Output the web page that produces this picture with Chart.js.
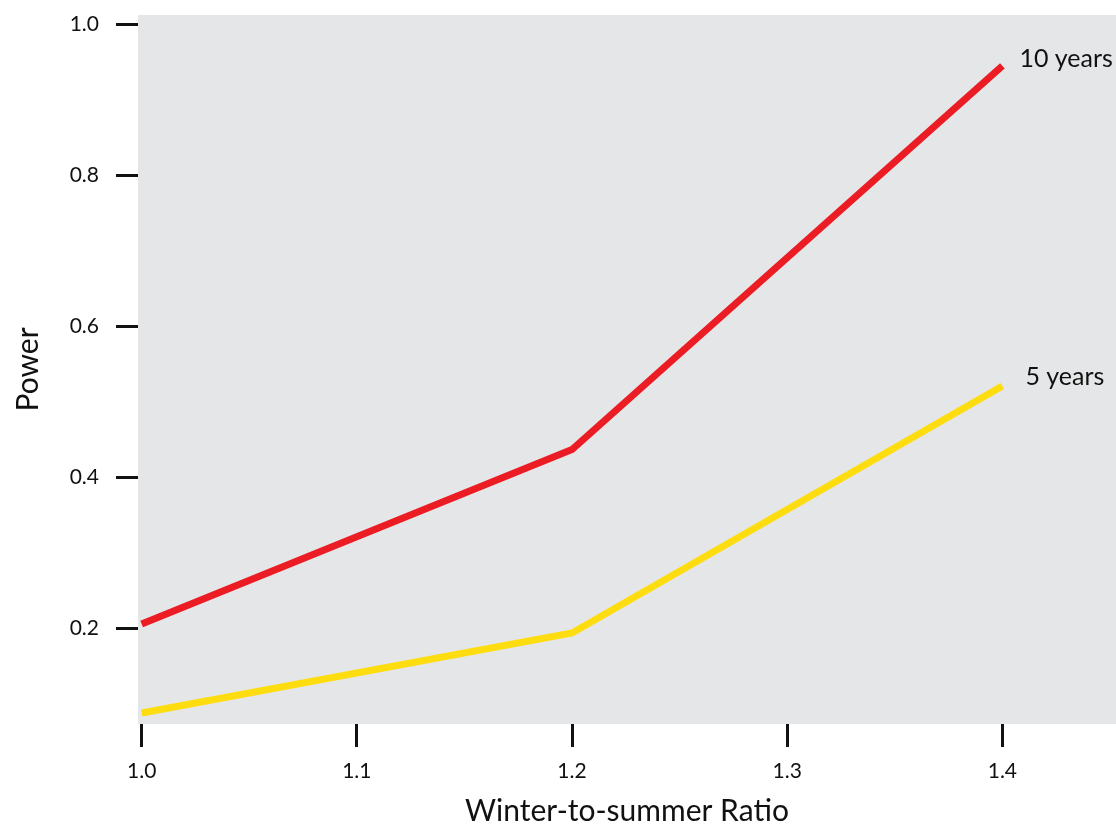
<!DOCTYPE html>
<html>
<head>
<meta charset="utf-8">
<script src="https://cdn.jsdelivr.net/npm/chart.js@4"></script>
<style>
  html, body { margin: 0; padding: 0; background: #fff; }
  canvas { display: block; }
</style>
</head>
<body>
<canvas id="canv" width="1116" height="829"></canvas>
<script>
const ratios = [1.0, 1.2, 1.4];
const tenYears = [0.206, 0.437, 0.945];
const fiveYears = [0.088, 0.194, 0.521];
const xTicks = [1.0, 1.1, 1.2, 1.3, 1.4];
const yTicks = [0.2, 0.4, 0.6, 0.8, 1.0];
const seriesNames = ["10 years", "5 years"];

const plotBg = {
  id: 'plotBg',
  beforeDraw(chart) {
    const a = chart.chartArea;
    const c = chart.ctx;
    c.save();
    c.fillStyle = '#e5e6e8';
    c.fillRect(a.left, a.top, a.right - a.left, a.bottom - a.top);
    c.restore();
  }
};

// series name next to the last point of each line
const endLabels = {
  id: 'endLabels',
  afterDatasetsDraw(chart) {
    const c = chart.ctx;
    const offs = [[17, -7], [23, -9]];
    c.save();
    c.font = '25px Lato';
    c.fillStyle = '#111';
    c.textBaseline = 'middle';
    c.textAlign = 'left';
    chart.data.datasets.forEach((ds, i) => {
      const pts = chart.getDatasetMeta(i).data;
      const p = pts[pts.length - 1];
      c.fillText(ds.label, p.x + offs[i][0], p.y + offs[i][1]);
    });
    c.restore();
  }
};

const ctx = document.getElementById('canv').getContext('2d');
new Chart(ctx, {
  type: 'line',
  data: {
    datasets: [
      {
        label: seriesNames[0],
        data: ratios.map((r, i) => ({x: r, y: tenYears[i]})),
        borderColor: '#ec1c24',
        borderWidth: 7,
        pointRadius: 0,
        tension: 0
      },
      {
        label: seriesNames[1],
        data: ratios.map((r, i) => ({x: r, y: fiveYears[i]})),
        borderColor: '#fedd10',
        borderWidth: 7,
        pointRadius: 0,
        tension: 0
      }
    ]
  },
  options: {
    responsive: false,
    animation: false,
    layout: { padding: { top: 15, right: 0, left: 0, bottom: 0 } },
    plugins: { legend: { display: false }, tooltip: { enabled: false } },
    scales: {
      x: {
        type: 'linear',
        min: 0.9983,
        max: 1.4528,
        afterBuildTicks: s => { s.ticks = xTicks.map(v => ({value: v})); },
        afterFit: s => { s.height = 105; s.paddingLeft = 0; s.paddingRight = 0; },
        grid: { drawOnChartArea: false, drawTicks: true, tickLength: 23, tickWidth: 3, tickColor: '#111' },
        border: { display: false },
        ticks: {
          padding: 12,
          color: '#111',
          font: { family: 'Lato', size: 21 },
          callback: v => v.toFixed(1)
        },
        title: {
          display: true,
          text: 'Winter-to-summer Ratio',
          color: '#111',
          font: { family: 'Lato', size: 30 },
          padding: { top: 0, bottom: 0 }
        }
      },
      y: {
        min: 0.0735,
        max: 1.0124,
        afterBuildTicks: s => { s.ticks = yTicks.map(v => ({value: v})); },
        afterFit: s => { s.width = 138; s.paddingTop = 0; s.paddingBottom = 0; },
        grid: { drawOnChartArea: false, drawTicks: true, tickLength: 22, tickWidth: 3, tickColor: '#111' },
        border: { display: false },
        ticks: {
          padding: 17,
          color: '#111',
          font: { family: 'Lato', size: 21 },
          callback: v => v.toFixed(1)
        },
        title: {
          display: true,
          text: 'Power',
          color: '#111',
          font: { family: 'Lato', size: 30 },
          padding: { top: 10, bottom: 0 }
        }
      }
    }
  },
  plugins: [plotBg, endLabels]
});
</script>
</body>
</html>
